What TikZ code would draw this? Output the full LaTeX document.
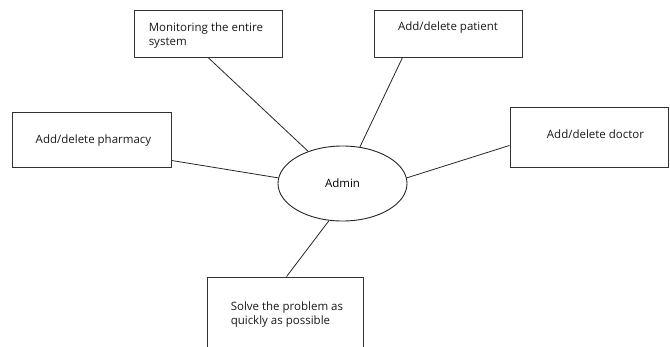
\documentclass[tikz,border=0pt]{standalone}
\usepackage{fontspec}
\setmainfont{Open Sans}
\usetikzlibrary{shapes.geometric,calc}

\tikzset{
  box/.style={draw=black!80, line width=0.9pt, rectangle, inner sep=0pt},
  oval/.style={draw=black!85, line width=0.9pt, ellipse, inner sep=0pt,
               minimum width=129pt, minimum height=75pt},
  txt/.style={inner sep=0pt, align=left, text=black!90},
  link/.style={draw=black!85, line width=0.8pt},
}

\begin{document}
\begin{tikzpicture}[x=1pt, y=-1pt,
    every node/.append style={font=\fontsize{11.5}{13.5}\selectfont}]
  \clip (0,0) rectangle (670,346);
  \fill[white] (0,0) rectangle (670,346);

  % central actor
  \node[oval] (admin) at (342.5,183.5) {Admin};

  % task boxes
  \node[box, minimum width=148pt, minimum height=47pt] (mon) at (208,33.5) {};
  \node[box, minimum width=148pt, minimum height=47pt] (pat) at (448,33.5) {};
  \node[box, minimum width=159pt, minimum height=55pt] (pha) at (91.5,139.5) {};
  \node[box, minimum width=158pt, minimum height=60pt] (doc) at (589,137) {};
  \node[box, minimum width=156pt, minimum height=80pt] (sol) at (285,317) {};

  % box captions (base anchor sits on the last line)
  \node[txt, anchor=base west] at ($(mon.north west)+(15,35.5)$)
    {Monitoring the entire\\system};
  \node[txt, anchor=base] at ($(pat.north)+(0,21)$) {Add/delete patient};
  \node[txt, anchor=base] at ($(pha.north)+(2,32)$) {Add/delete pharmacy};
  \node[txt, anchor=base] at ($(doc.north)+(6.5,32)$) {Add/delete doctor};
  \node[txt, anchor=base west] at ($(sol.north west)+(24,47.5)$)
    {Solve the problem as\\quickly as possible};

  % connectors
  \draw[link] (mon.south) -- (admin);
  \draw[link] ($(pat.south west)+(29,0)$) -- (admin);
  \draw[link] ($(pha.south east)+(0,-7)$) -- (admin.175);
  \draw[link] ($(doc.south west)+(0,-22)$) -- (admin.5);
  \draw[link] ($(sol.north west)+(80,0)$) -- (admin.250);
\end{tikzpicture}
\end{document}
